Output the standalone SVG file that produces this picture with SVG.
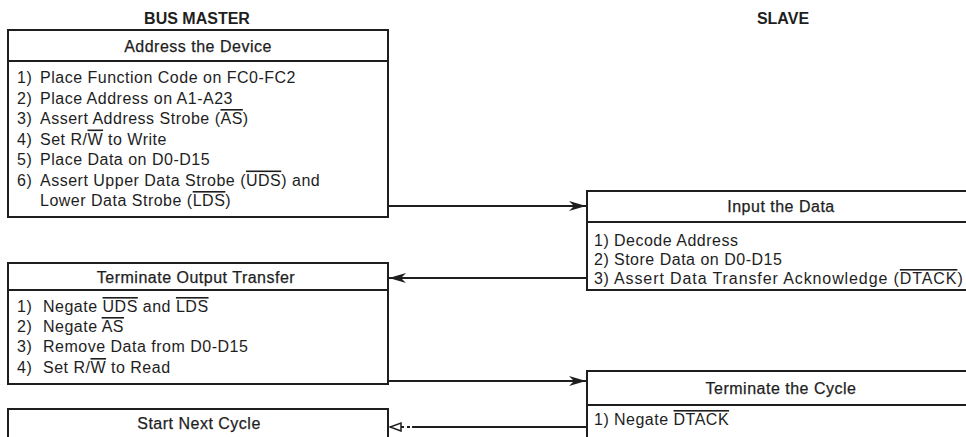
<svg xmlns="http://www.w3.org/2000/svg" width="966" height="437" viewBox="0 0 966 437">
<style>
  .box { fill: #fff; stroke: #1e1e1e; stroke-width: 2; }
  .div { stroke: #1e1e1e; stroke-width: 2; }
  .t { font-family: "Liberation Sans", Arial, sans-serif; font-size: 16px; fill: #1e1e1e; letter-spacing: 0.5px; }
  .h { font-family: "Liberation Sans", Arial, sans-serif; font-size: 16px; fill: #1e1e1e; letter-spacing: 0.5px; text-anchor: middle; stroke: #1e1e1e; stroke-width: 0.25; }
  .title { font-family: "Liberation Sans", Arial, sans-serif; font-size: 16px; font-weight: bold; fill: #1e1e1e; text-anchor: middle; }
  .ov { text-decoration: overline; }
  .conn { fill: none; stroke: #1e1e1e; stroke-width: 2; }
</style>
<defs>
  <marker id="ah" markerUnits="userSpaceOnUse" markerWidth="18" markerHeight="12" refX="17" refY="5" orient="auto">
    <path d="M0,0 L17,5 L0,10 L5,5 Z" fill="#1e1e1e"/>
  </marker>
  <marker id="oh" markerUnits="userSpaceOnUse" markerWidth="14" markerHeight="12" refX="12" refY="5" orient="auto">
    <path d="M1,1 L12,5 L1,9 Z" fill="#fff" stroke="#1e1e1e" stroke-width="1.5"/>
  </marker>
</defs>
<rect width="966" height="437" fill="#fff"/>

<text class="title" x="197" y="24">BUS MASTER</text>
<text class="title" x="783" y="24">SLAVE</text>

<g id="address-device">
  <rect class="box" x="8" y="30" width="380" height="187"/>
  <line class="div" x1="8" y1="61" x2="388" y2="61"/>
  <text class="h" x="198" y="52">Address the Device</text>
  <text class="t" x="17" y="83">1)</text><text class="t" x="40" y="83">Place Function Code on FC0-FC2</text>
  <text class="t" x="17" y="103.5">2)</text><text class="t" x="40" y="103.5">Place Address on A1-A23</text>
  <text class="t" x="17" y="124">3)</text><text class="t" x="40" y="124">Assert Address Strobe (<tspan class="ov">AS</tspan>)</text>
  <text class="t" x="17" y="144.5">4)</text><text class="t" x="40" y="144.5">Set R/<tspan class="ov">W</tspan> to Write</text>
  <text class="t" x="17" y="165">5)</text><text class="t" x="40" y="165">Place Data on D0-D15</text>
  <text class="t" x="17" y="185.5">6)</text><text class="t" x="40" y="185.5">Assert Upper Data Strobe (<tspan class="ov">UDS</tspan>) and</text>
  <text class="t" x="40" y="206">Lower Data Strobe (<tspan class="ov">LDS</tspan>)</text>
</g>

<g id="input-data">
  <rect class="box" x="587" y="191" width="400" height="99"/>
  <line class="div" x1="587" y1="222" x2="987" y2="222"/>
  <text class="h" x="781" y="212">Input the Data</text>
  <text class="t" x="594" y="246">1)</text><text class="t" x="614" y="246">Decode Address</text>
  <text class="t" x="594" y="265">2)</text><text class="t" x="614" y="265">Store Data on D0-D15</text>
  <text class="t" x="594" y="284">3)</text><text class="t" x="614" y="284" style="letter-spacing:0.9px">Assert Data Transfer Acknowledge (<tspan class="ov">DTACK</tspan>)</text>
</g>

<g id="terminate-output">
  <rect class="box" x="8" y="263" width="380" height="121"/>
  <line class="div" x1="8" y1="290" x2="388" y2="290"/>
  <text class="h" x="196" y="283">Terminate Output Transfer</text>
  <text class="t" x="17" y="312">1)</text><text class="t" x="43" y="312">Negate <tspan class="ov">UDS</tspan> and <tspan class="ov">LDS</tspan></text>
  <text class="t" x="17" y="332">2)</text><text class="t" x="43" y="332">Negate <tspan class="ov">AS</tspan></text>
  <text class="t" x="17" y="352">3)</text><text class="t" x="43" y="352">Remove Data from D0-D15</text>
  <text class="t" x="17" y="373">4)</text><text class="t" x="43" y="373">Set R/<tspan class="ov">W</tspan> to Read</text>
</g>

<g id="terminate-cycle">
  <rect class="box" x="587" y="371" width="400" height="100"/>
  <line class="div" x1="587" y1="405" x2="987" y2="405"/>
  <text class="h" x="781" y="394">Terminate the Cycle</text>
  <text class="t" x="594" y="425">1)</text><text class="t" x="614" y="425">Negate <tspan class="ov">DTACK</tspan></text>
</g>

<g id="start-next">
  <rect class="box" x="8" y="409" width="380" height="60"/>
  <text class="h" x="199" y="429">Start Next Cycle</text>
</g>

<g id="connectors">
  <line class="conn" x1="388" y1="206" x2="586" y2="206" marker-end="url(#ah)"/>
  <line class="conn" x1="587" y1="278" x2="389" y2="278" marker-end="url(#ah)"/>
  <line class="conn" x1="388" y1="381" x2="586" y2="381" marker-end="url(#ah)"/>
  <path class="conn" d="M587,427 L412,427" />
  <path class="conn" d="M410,427 L390,427" stroke-dasharray="3 3" marker-end="url(#oh)"/>
</g>
</svg>
